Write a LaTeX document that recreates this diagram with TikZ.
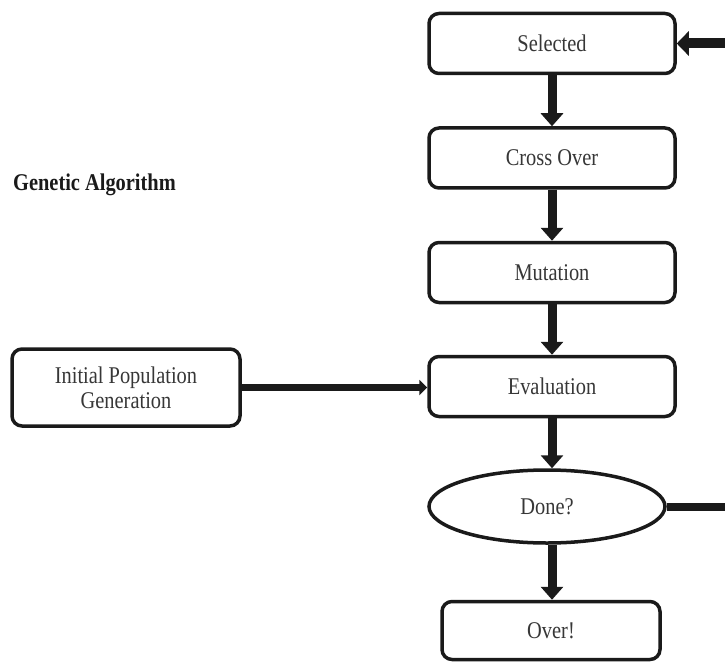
\documentclass[tikz,border=0pt]{standalone}
\usepackage{fontspec}
\setmainfont[FakeStretch=0.85]{Liberation Serif}
\usetikzlibrary{arrows.meta,shapes.geometric}
\definecolor{ga-line}{RGB}{26,26,26}
\definecolor{ga-text}{RGB}{55,55,55}

\begin{document}
\begin{tikzpicture}[x=1pt,y=-1pt,
  box/.style={draw=ga-line,line width=3.5pt,rounded corners=10pt,fill=white,text=ga-text,
    font=\fontsize{24}{25}\selectfont,align=center,inner sep=0pt,minimum width=246pt,minimum height=60pt},
  flow/.style={draw=ga-line,line width=9pt,-{Triangle[width=22pt,length=13pt]}}]
\useasboundingbox (0,0) rectangle (725,663);
% main loop
\node[box] (sel) at (552,43.5) {Selected};
\node[box] (cross) at (552,158) {Cross Over};
\node[box] (mut) at (552,272.5) {Mutation};
\node[box] (eval) at (552,386.5) {Evaluation};
\node[box,rounded corners=0pt,ellipse,minimum width=236pt,minimum height=73pt] (done) at (547,506.5) {Done?};
\node[box,minimum width=218pt,minimum height=58pt] (over) at (551,630.5) {Over!};
% start
\node[box,minimum width=228pt,minimum height=77pt] (init) at (126,387.5) {Initial Population\\Generation};
\node[anchor=base west,inner sep=0pt,text=ga-line,font=\fontsize{24}{25}\selectfont\bfseries] (title) at (13,190) {Genetic Algorithm};
\coordinate (feed) at (740,43.5);
\coordinate (back) at (740,506.5);

\draw[flow] (sel) -- (cross);
\draw[flow] (cross) -- (mut);
\draw[flow] (mut) -- (eval);
\draw[flow] (eval.south) -- (eval.south |- done.north);
\draw[flow] (eval.south |- done.south) -- (eval.south |- over.north);
\draw[draw=ga-line,line width=10pt,-{Triangle[width=24pt,length=12pt]}] (feed) -- (sel.east);
\draw[draw=ga-line,line width=8pt] (done.east) -- (back);
\draw[draw=ga-line,line width=6.5pt,-{Triangle[width=15pt,length=8pt]}] (init.east) -- (init.east -| eval.west);
\end{tikzpicture}
\end{document}
